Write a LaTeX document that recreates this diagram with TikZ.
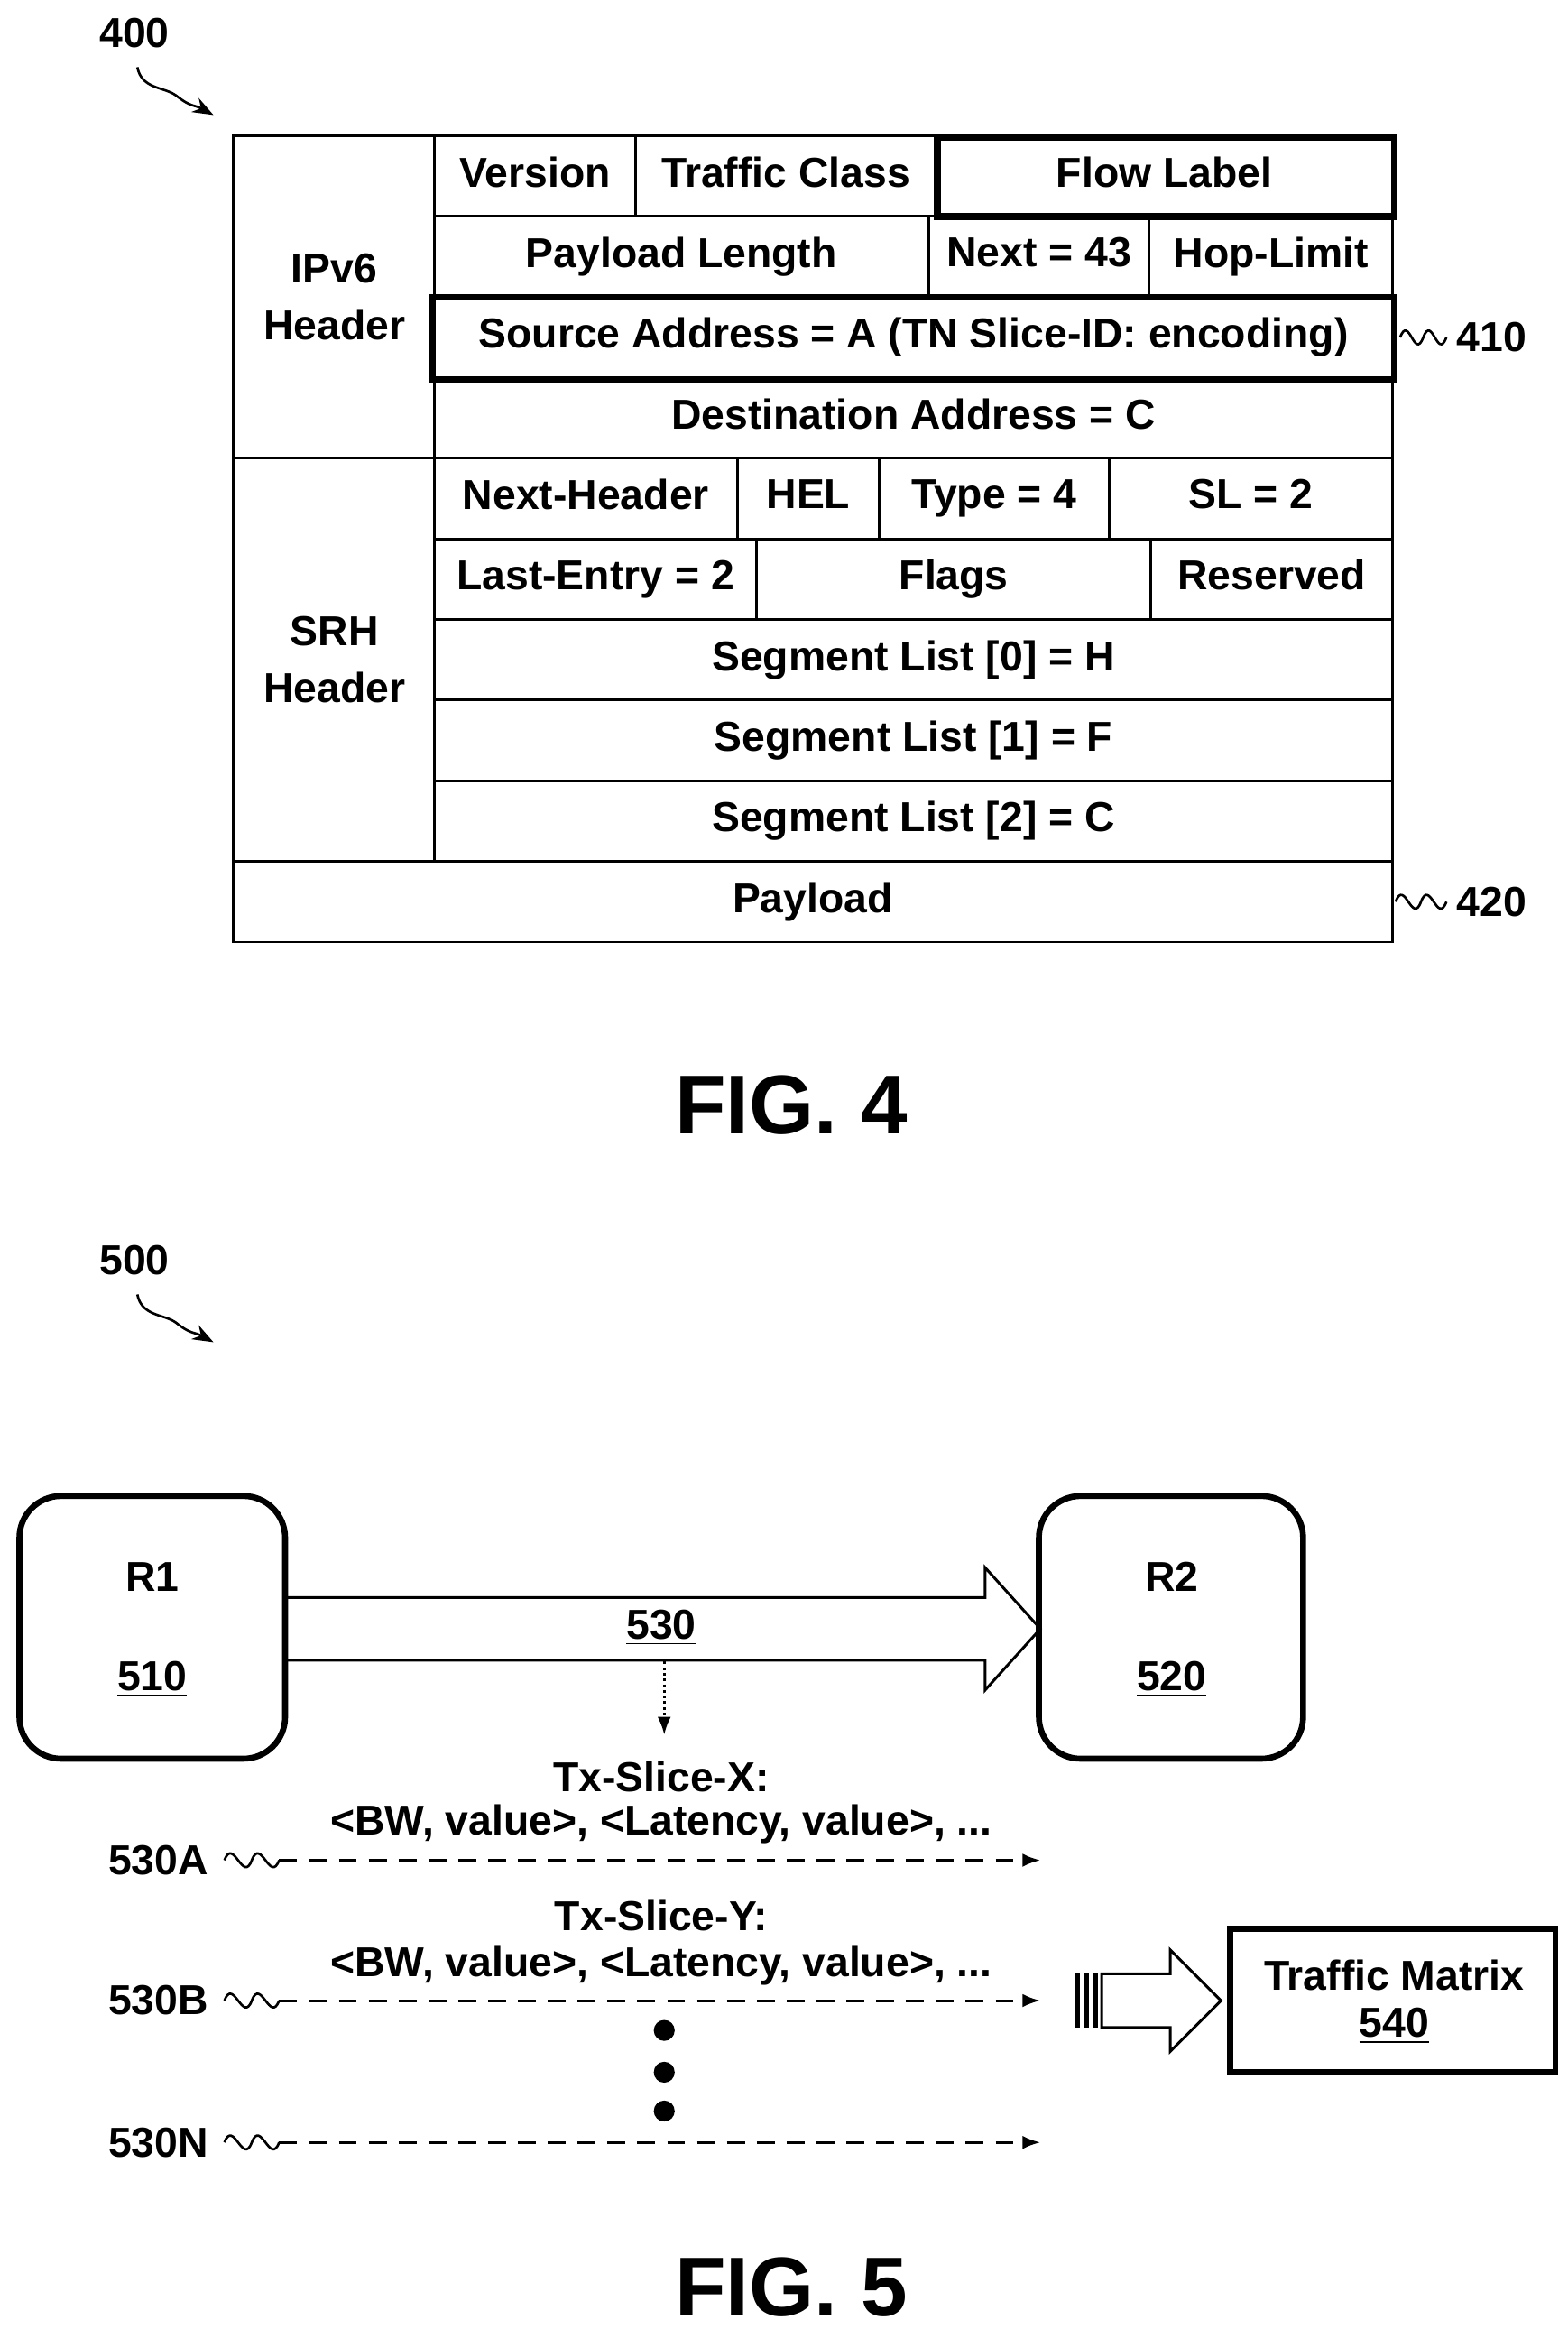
\documentclass[tikz,border=0pt]{standalone}
\usepackage{fontspec}
\setmainfont{Liberation Sans}
\usetikzlibrary{arrows.meta,positioning,calc}
\tikzset{
  txt/.style={font=\bfseries\fontsize{14}{16}\selectfont, inner sep=0pt},
  big/.style={font=\bfseries\fontsize{28}{32}\selectfont, inner sep=0pt},
  thick box/.style={line width=2.2pt},
  squig/.style={line width=0.8pt},
}
\newcommand{\squiggle}[2]{% from #1 to #2 horizontally
  \draw[squig] (#1) .. controls +(6,-16) and +(-6,16) .. ($(#1)!0.5!(#2)$) .. controls +(6,-16) and +(-6,16) .. (#2);}
\begin{document}
\begin{tikzpicture}[x=0.5pt, y=-0.5pt, line width=0.9pt]
\useasboundingbox (0,0) rectangle (1050,1560);
% ---------- FIG. 4
\node[txt] (n400) at (90,22) {400};
\draw[squig,-{Stealth[length=7pt]}] (92,45) .. controls (95,60) and (110,58) .. (118,64) .. controls (128,72) and (130,70) .. (143,77);
\draw (156,91) rectangle (933,631);
\draw (156,307) -- (933,307) (156,577) -- (933,577) (291,91) -- (291,577);
\node[txt, align=center] (ipv6) at (224,199) {IPv6\\[3pt]Header};
\node[txt, align=center] (srh) at (224,442) {SRH\\[3pt]Header};
\foreach \xa/\xb/\ya/\yb/\t [count=\i] in {
  291/426/91/145/Version, 426/627/91/145/Traffic Class, 627/933/91/145/Flow Label,
  291/622/145/199/Payload Length, 622/770/145/199/Next = 43, 770/933/145/199/Hop-Limit,
  291/933/199/253/{Source Address = A (TN Slice-ID: encoding)},
  291/933/253/307/Destination Address = C,
  291/494/307/361/Next-Header, 494/589/307/361/HEL, 589/743/307/361/Type = 4, 743/933/307/361/SL = 2,
  291/507/361/415/Last-Entry = 2, 507/771/361/415/Flags, 771/933/361/415/Reserved,
  291/933/415/469/{Segment List [0] = H},
  291/933/469/523/{Segment List [1] = F},
  291/933/523/577/{Segment List [2] = C},
  156/933/577/631/Payload}
{
  \draw (\xa,\ya) rectangle (\xb,\yb);
  \node[txt] (c\i) at ({(\xa+\xb)/2},{(\ya+\yb)/2}) {\vphantom{Ag}\t};
}
\draw[thick box] (628,92) rectangle (934,145);
\draw[thick box] (290,199) rectangle (934,254);
\node[txt, anchor=west] (n410) at (975,226) {410};
\node[txt, anchor=west] (n420) at (975,604) {420};
\coordinate (s410) at (938,226);
\coordinate (s420) at (935,604);
\squiggle{s410}{$(n410.west)+(-6,0)$}
\squiggle{s420}{$(n420.west)+(-6,0)$}
\node[big] (fig4) at (530,740) {FIG. 4};
% ---------- FIG. 5
\node[txt] (n500) at (90,844) {500};
\draw[squig,-{Stealth[length=7pt]}] (92,867) .. controls (95,882) and (110,880) .. (118,886) .. controls (128,894) and (130,892) .. (143,899);
\draw[line width=2pt, rounded corners=14pt] (13,1002) rectangle (191,1178);
\draw[line width=2pt, rounded corners=14pt] (696,1002) rectangle (873,1178);
\node[txt] (r1) at (102,1056) {R1};
\node[txt] (n510) at (102,1125) {\underline{510}};
\node[txt] (r2) at (785,1056) {R2};
\node[txt] (n520) at (785,1125) {\underline{520}};
\draw (191,1070) -- (660,1070) -- (660,1050) -- (697,1091) -- (660,1132) -- (660,1112) -- (191,1112);
\node[txt] (n530) at (443,1090) {\underline{530}};
\draw[densely dotted, -{Latex[length=6pt]}] (445,1113) -- (445,1162);
\node[txt] (slx) at (443,1190) {Tx-Slice-X:};
\node[txt] (bwx) at (443,1222) {<BW, value>, <Latency, value>, ...};
\node[txt] (sly) at (443,1283) {Tx-Slice-Y:};
\node[txt] (bwy) at (443,1317) {<BW, value>, <Latency, value>, ...};
\foreach \lab/\y in {530A/1246, 530B/1340, 530N/1435}
{
  \node[txt] (l\lab) at (106,\y) {\lab};
  \coordinate (a\lab) at (187,\y);
  \coordinate (b\lab) at (697,\y);
  \squiggle{$(l\lab.east)+(10,0)$}{a\lab}
  \draw[dash pattern=on 6pt off 4pt, -{Latex[length=6pt]}] (a\lab) -- (b\lab);
}
\foreach \y [count=\i] in {1360,1388,1414}
  \fill (445,\y) circle (7) coordinate (d\i);
\node[draw, line width=2pt, minimum width=109pt, minimum height=48pt] (tm) at (933,1340) {};
\node[txt] (tmtxt) at (934,1323) {Traffic Matrix};
\node[txt] (n540) at (934,1357) {\underline{540}};
\draw (738,1322) -- (784,1322) -- (784,1306) -- (818,1340) -- (784,1374) -- (784,1358) -- (738,1358) -- cycle;
\foreach \x in {722,728,734}
  \draw[line width=1.4pt] (\x,1322) -- (\x,1358);
\node[big] (fig5) at (530,1532) {FIG. 5};
\end{tikzpicture}
\end{document}
